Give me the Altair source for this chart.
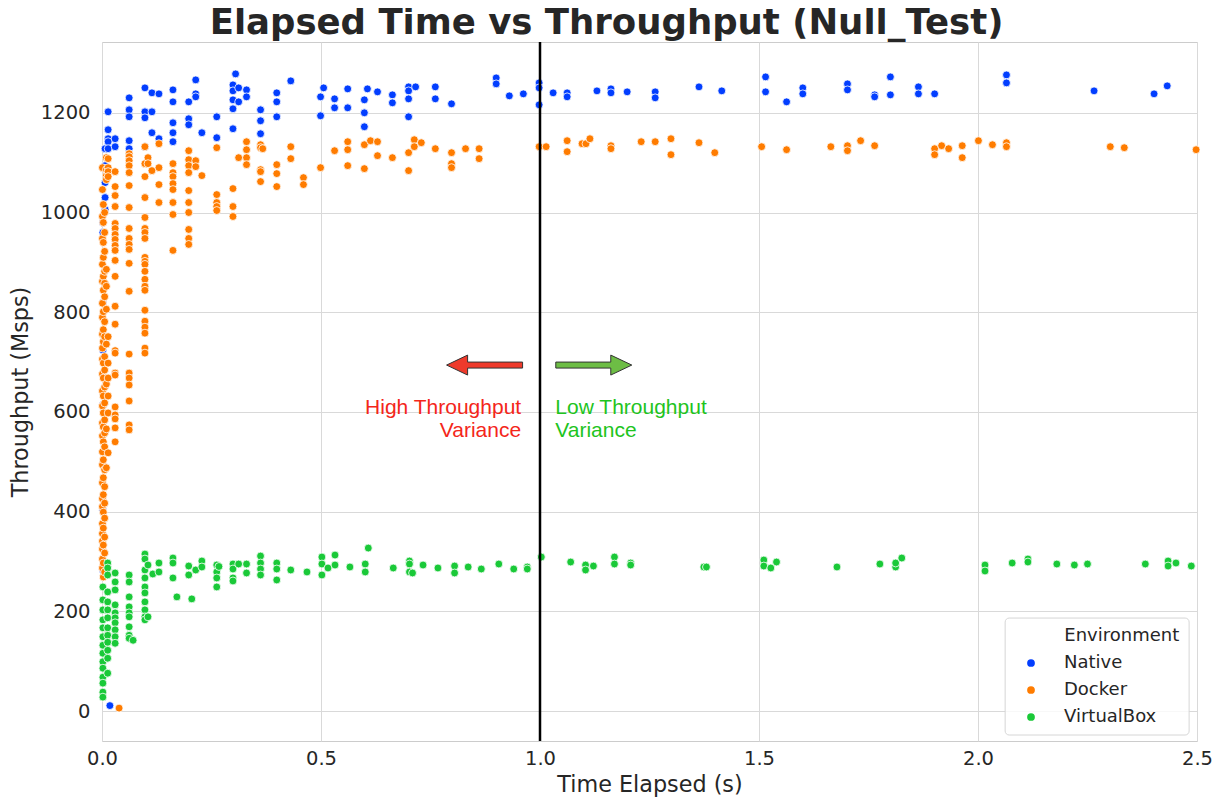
import altair as alt
import pandas as pd

# ---------------- data ----------------
environments = ["Native", "Docker", "VirtualBox"]
env_colors = ["#023eff", "#ff7c00", "#1ac938"]

# (time elapsed in s, [throughput values in Msps]) per column of points
native_cols = [
    (0.002, [980, 960, 819, 724, 614, 403, 283]),
    (0.007, [1128, 1094, 1060, 1030, 1006]),
    (0.014, [1202, 1166, 1148, 1142, 1128]),
    (0.018, [11]),
    (0.030, [1148, 1132]),
    (0.062, [1230, 1206, 1192, 1144, 1128]),
    (0.098, [1250, 1202, 1190, 1132]),
    (0.114, [1240, 1202, 1160]),
    (0.130, [1238, 1148]),
    (0.162, [1246, 1222, 1180, 1160, 1142]),
    (0.198, [1222, 1188, 1176]),
    (0.214, [1266, 1238, 1232]),
    (0.228, [1160]),
    (0.262, [1192, 1150]),
    (0.299, [1256, 1244, 1226, 1208, 1168]),
    (0.305, [1278]),
    (0.312, [1250, 1222]),
    (0.330, [1246, 1232]),
    (0.362, [1206, 1184, 1158]),
    (0.399, [1240, 1222, 1192]),
    (0.431, [1264]),
    (0.499, [1232, 1194]),
    (0.506, [1250]),
    (0.531, [1228, 1210]),
    (0.561, [1248, 1210]),
    (0.599, [1226, 1200, 1172]),
    (0.606, [1248]),
    (0.629, [1242]),
    (0.663, [1236, 1220]),
    (0.700, [1252, 1244, 1228, 1192]),
    (0.716, [1252]),
    (0.761, [1252, 1228]),
    (0.798, [1218]),
    (0.900, [1270, 1258]),
    (0.930, [1234]),
    (0.962, [1238]),
    (0.998, [1260, 1250, 1216]),
    (1.030, [1240]),
    (1.062, [1240, 1232]),
    (1.130, [1244]),
    (1.162, [1248, 1240]),
    (1.199, [1242]),
    (1.263, [1242, 1230]),
    (1.363, [1252]),
    (1.415, [1244]),
    (1.515, [1272, 1242]),
    (1.563, [1222]),
    (1.600, [1250, 1238]),
    (1.702, [1258, 1246]),
    (1.764, [1236, 1232]),
    (1.800, [1272, 1236]),
    (1.864, [1252, 1238]),
    (1.901, [1238]),
    (2.065, [1276, 1260]),
    (2.265, [1244]),
    (2.402, [1238]),
    (2.432, [1254]),
]

docker_cols = [
    (0.001, [1090, 1046, 992, 948, 896, 862, 818, 790, 756, 728, 706, 676, 642,
             612, 578, 552, 520, 494, 458, 426, 410, 376, 356, 341, 325, 305, 287]),
    (0.003, [1016, 980, 940, 910, 872, 844, 801, 765, 741, 698, 668, 632, 598,
             570, 540, 504, 468, 434, 399, 367, 333, 297, 269]),
    (0.006, [1000, 960, 922, 882, 858, 831, 781, 751, 711, 684, 650, 618, 584,
             558, 530, 484, 450, 417, 387, 349, 317, 279]),
    (0.010, [1110, 1086, 1074, 1066, 886, 852, 806, 736, 656, 566, 488]),
    (0.014, [1108, 1090, 1082, 1072, 751, 698, 668, 632, 598, 518]),
    (0.030, [1082, 1052, 1034, 1012, 978, 968, 956, 946, 934, 924, 904, 872,
             812, 776, 723, 718, 678, 674, 610, 594, 586, 568, 540]),
    (0.039, [6]),
    (0.062, [1118, 1112, 1104, 1094, 1080, 1054, 1010, 968, 948, 936, 926, 898,
             842, 716, 678, 668, 654, 622, 574, 564]),
    (0.098, [1132, 1098, 1072, 1030, 990, 968, 960, 948, 910, 902, 896, 882,
             866, 852, 844, 804, 782, 770, 758, 728, 718]),
    (0.105, [1110, 1098]),
    (0.114, [1084]),
    (0.130, [1138, 1090, 1056, 1020]),
    (0.162, [1098, 1080, 1072, 1058, 1046, 1020, 996, 924]),
    (0.198, [1124, 1106, 1094, 1080, 1044, 1020, 1000, 966, 948, 936]),
    (0.214, [1104, 1092]),
    (0.228, [1074]),
    (0.262, [1130, 1036, 1020, 1012, 1004]),
    (0.299, [1048, 1012, 992]),
    (0.312, [1110]),
    (0.330, [1142, 1126, 1110, 1096]),
    (0.362, [1136, 1130, 1086, 1082, 1062]),
    (0.367, [1128]),
    (0.399, [1096, 1078, 1052]),
    (0.431, [1132, 1108]),
    (0.460, [1070, 1056]),
    (0.499, [1090]),
    (0.531, [1124]),
    (0.561, [1142, 1126, 1094]),
    (0.599, [1136, 1088]),
    (0.613, [1144]),
    (0.629, [1142, 1114]),
    (0.663, [1110]),
    (0.700, [1120, 1084]),
    (0.713, [1146, 1132]),
    (0.729, [1140]),
    (0.761, [1128]),
    (0.798, [1120, 1098, 1090]),
    (0.830, [1128]),
    (0.861, [1128, 1108]),
    (0.998, [1132]),
    (1.014, [1132]),
    (1.062, [1144, 1122]),
    (1.096, [1138]),
    (1.105, [1138]),
    (1.114, [1148]),
    (1.162, [1134, 1128]),
    (1.231, [1142]),
    (1.263, [1142]),
    (1.299, [1148, 1116]),
    (1.363, [1140]),
    (1.399, [1120]),
    (1.506, [1132]),
    (1.563, [1126]),
    (1.664, [1132]),
    (1.702, [1134, 1124]),
    (1.732, [1144]),
    (1.764, [1134]),
    (1.901, [1128, 1116]),
    (1.917, [1134]),
    (1.933, [1128]),
    (1.964, [1134, 1110]),
    (2.001, [1144]),
    (2.033, [1136]),
    (2.065, [1140, 1132]),
    (2.302, [1132]),
    (2.334, [1130]),
    (2.498, [1126]),
]

vbox_cols = [
    (0.002, [249, 223, 203, 183, 167, 149, 132, 116, 99, 86, 68, 56, 38, 28]),
    (0.013, [297, 287, 273, 239, 219, 203, 187, 167, 152, 138, 122, 106, 76]),
    (0.030, [277, 259, 243, 213, 197, 187, 177, 163, 149, 136]),
    (0.062, [273, 259, 229, 209, 197, 189, 169, 152, 146]),
    (0.071, [142]),
    (0.098, [315, 305, 283, 267, 249, 237, 219, 203, 189, 183]),
    (0.105, [293, 189]),
    (0.116, [275]),
    (0.130, [297, 279]),
    (0.162, [307, 297, 267]),
    (0.171, [229]),
    (0.198, [291, 273]),
    (0.205, [225]),
    (0.214, [283]),
    (0.228, [301, 289]),
    (0.262, [293, 279, 267, 249]),
    (0.267, [290]),
    (0.299, [295, 285, 267, 261]),
    (0.312, [295]),
    (0.330, [295, 277]),
    (0.362, [311, 297, 285, 273]),
    (0.399, [297, 285, 263]),
    (0.431, [283]),
    (0.468, [279]),
    (0.502, [309, 295, 273]),
    (0.516, [287]),
    (0.532, [313, 293]),
    (0.566, [289]),
    (0.601, [295, 279]),
    (0.608, [327]),
    (0.665, [287]),
    (0.702, [301, 295, 279]),
    (0.709, [277]),
    (0.733, [293]),
    (0.767, [287]),
    (0.805, [291, 277]),
    (0.836, [289]),
    (0.866, [285]),
    (0.906, [295]),
    (0.940, [285]),
    (0.971, [289, 285]),
    (1.003, [309]),
    (1.070, [299]),
    (1.104, [293, 283]),
    (1.122, [291]),
    (1.170, [309, 295]),
    (1.207, [297, 293]),
    (1.374, [289]),
    (1.380, [289]),
    (1.511, [303, 291]),
    (1.527, [287]),
    (1.540, [299]),
    (1.678, [289]),
    (1.776, [295]),
    (1.812, [289, 297]),
    (1.826, [307]),
    (2.016, [293, 281]),
    (2.078, [297]),
    (2.114, [305, 299]),
    (2.180, [295]),
    (2.220, [293]),
    (2.250, [295]),
    (2.382, [295]),
    (2.434, [301, 291]),
    (2.452, [297]),
    (2.487, [291]),
]

x_ticks = [0.0, 0.5, 1.0, 1.5, 2.0, 2.5]
y_ticks = [0, 200, 400, 600, 800, 1000, 1200]

# ---------------- build the table ----------------
rows = []
for env, cols in zip(environments, [native_cols, docker_cols, vbox_cols]):
    for t, ys in cols:
        for v in ys:
            rows.append({"x": t, "y": v, "Environment": env})
df = pd.DataFrame(rows)

FONT = "DejaVu Sans"
TXT = "#262626"

xscale = alt.Scale(domain=[0, 2.5], nice=False, zero=False)
yscale = alt.Scale(domain=[-60, 1342], nice=False, zero=False)
xaxis = alt.Axis(values=x_ticks, format=".1f", title="Time Elapsed (s)",
                 labelFlush=False)
yaxis = alt.Axis(values=y_ticks, format="d", title="Throughput (Msps)",
                 labelFlush=False)


def X():
    return alt.X("x:Q", scale=xscale, axis=xaxis)


def Y():
    return alt.Y("y:Q", scale=yscale, axis=yaxis)


points = alt.Chart(df).mark_circle(
    size=62, opacity=1, stroke="white", strokeWidth=0.8
).encode(
    x=X(),
    y=Y(),
    color=alt.Color(
        "Environment:N",
        scale=alt.Scale(domain=environments, range=env_colors),
        sort=environments,
        title=None,
        legend=alt.Legend(
            orient="none", legendX=920, legendY=612, padding=0,
            labelFont=FONT, labelFontSize=18, labelColor=TXT,
            symbolType="circle", symbolSize=60, symbolStrokeWidth=0,
            labelOffset=24, rowPadding=9,
        ),
    ),
    order=alt.Order("order_idx:Q"),
).transform_calculate(
    order_idx="datum.Environment == 'Native' ? 0 : (datum.Environment == 'Docker' ? 1 : 2)"
)

# vertical divider at 1.0 s
divider = alt.Chart(pd.DataFrame({"x": [1.0]})).mark_rule(
    color="black", strokeWidth=2.5
).encode(x=X())

LEFT_ARROW = ("M -1 0 L -0.447 -0.263 L -0.447 -0.079 L 1 -0.079 "
              "L 1 0.079 L -0.447 0.079 L -0.447 0.263 Z")
RIGHT_ARROW = ("M 1 0 L 0.447 -0.263 L 0.447 -0.079 L -1 -0.079 "
               "L -1 0.079 L 0.447 0.079 L 0.447 0.263 Z")

red_arrow = alt.Chart(pd.DataFrame({"x": [0.8735], "y": [694]})).mark_point(
    shape=LEFT_ARROW, size=5776, filled=True, fill="#ee3a2b",
    stroke="#333333", strokeWidth=1, opacity=1
).encode(x=X(), y=Y())

green_arrow = alt.Chart(pd.DataFrame({"x": [1.1228], "y": [694]})).mark_point(
    shape=RIGHT_ARROW, size=5776, filled=True, fill="#6dbd45",
    stroke="#333333", strokeWidth=1, opacity=1
).encode(x=X(), y=Y())

red_text = alt.Chart(pd.DataFrame({
    "x": [0.957, 0.957], "y": [596, 550], "t": ["High Throughput", "Variance"]
})).mark_text(
    align="right", baseline="alphabetic", font="Liberation Sans",
    fontSize=21, color="#f4261a"
).encode(x=X(), y=Y(), text="t:N")

green_text = alt.Chart(pd.DataFrame({
    "x": [1.035, 1.035], "y": [596, 550], "t": ["Low Throughput", "Variance"]
})).mark_text(
    align="left", baseline="alphabetic", font="Liberation Sans",
    fontSize=21, color="#1ec41e"
).encode(x=X(), y=Y(), text="t:N")

# legend frame and heading
legend_box = alt.Chart(pd.DataFrame({
    "x": [2.062], "x2": [2.482], "y": [-48], "y2": [186.6]
})).mark_rect(
    fill="white", fillOpacity=0.8, stroke="#d6d6d6", strokeWidth=1, cornerRadius=4
).encode(x=X(), x2="x2:Q", y=Y(), y2="y2:Q")

legend_head = alt.Chart(pd.DataFrame({
    "x": [2.197], "y": [141], "t": ["Environment"]
})).mark_text(
    align="left", baseline="alphabetic", font=FONT, fontSize=18, color=TXT
).encode(x=X(), y=Y(), text="t:N")

chart = alt.layer(
    points, divider, red_arrow, green_arrow, red_text, green_text,
    legend_box, legend_head
).properties(
    width=1095, height=699,
    autosize=alt.AutoSizeParams(type="none"),
    padding={"left": 94, "top": 34, "right": 15, "bottom": 56},
    title=alt.TitleParams(
        "Elapsed Time vs Throughput (Null_Test)",
        font=FONT, fontSize=35.5, fontWeight="bold", color=TXT,
        anchor="middle", dx=-43, dy=3, offset=2,
    ),
).configure_view(
    stroke="#cccccc", strokeWidth=1
).configure_axis(
    grid=True, gridColor="#d9d9d9", gridWidth=1, domain=False,
    ticks=False, tickSize=0,
    labelFont=FONT, labelFontSize=19.5, labelColor=TXT,
    titleFont=FONT, titleFontSize=22.3, titleColor=TXT, titleFontWeight="normal",
).configure_axisX(
    labelPadding=8, titlePadding=6
).configure_axisY(
    labelPadding=12, titlePadding=8
)

chart.save("out.html", embed_options={"renderer": "svg", "actions": False})
